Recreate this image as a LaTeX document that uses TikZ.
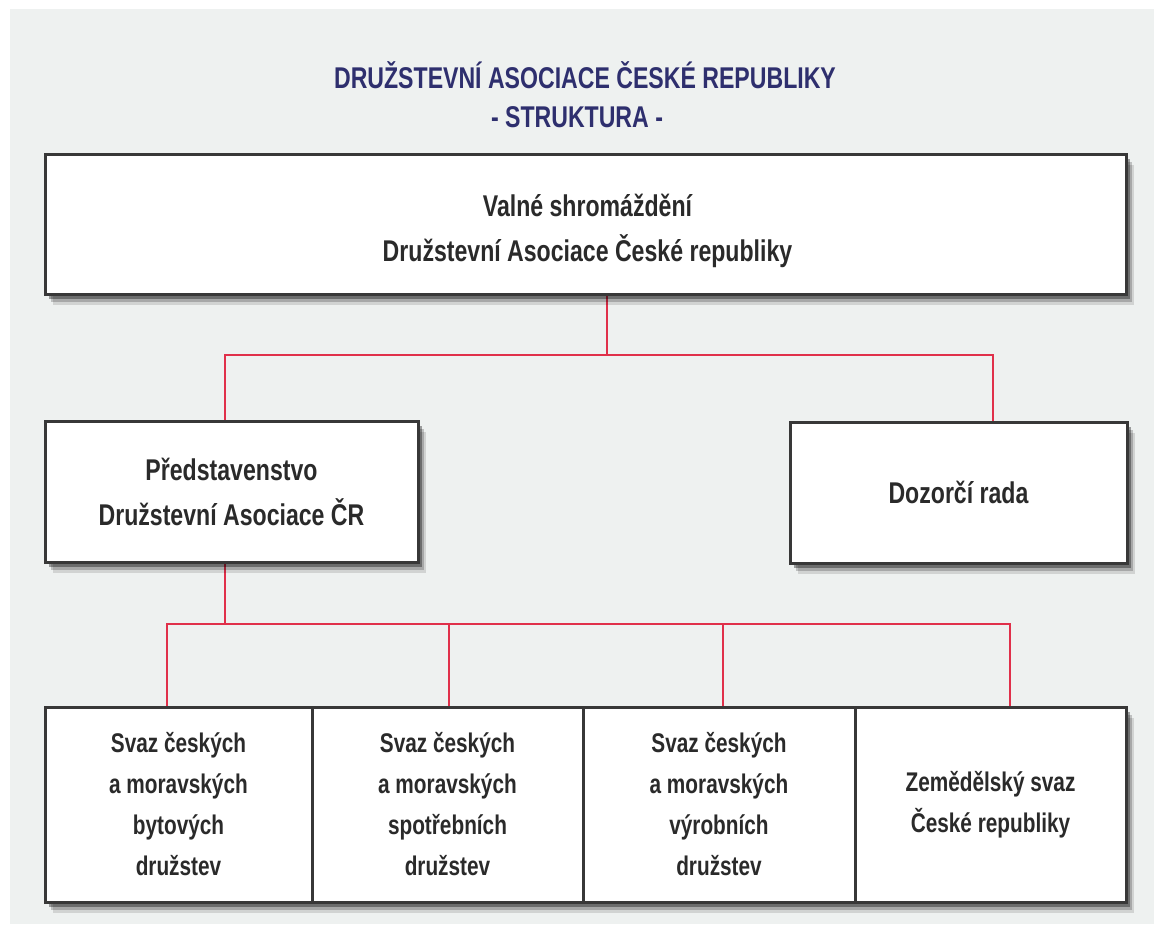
\documentclass[tikz,border=0pt]{standalone}
\usepackage{fontspec}
\usetikzlibrary{calc}
\newfontfamily\boxfont[FakeStretch=0.77]{Liberation Sans}
\definecolor{bgc}{HTML}{EEF1F0}
\definecolor{navy}{HTML}{2E2F6E}
\definecolor{boxline}{HTML}{383838}
\definecolor{textc}{HTML}{2A2A2A}
\definecolor{redline}{HTML}{E0304A}
\pgfdeclarelayer{bglayer}
\pgfdeclarelayer{connlayer}
\pgfsetlayers{bglayer,connlayer,main}
\tikzset{
  softshadow/.style={
    preaction={fill=black, fill opacity=0.12, draw=none, transform canvas={xshift=8pt, yshift=-11pt}},
    preaction={fill=black, fill opacity=0.20, draw=none, transform canvas={xshift=6pt, yshift=-8pt}},
    preaction={fill=black, fill opacity=0.35, draw=none, transform canvas={xshift=4pt, yshift=-5pt}}},
  box/.style={draw=boxline, line width=3pt, fill=white, text=textc,
    align=center, inner sep=0pt, outer sep=0pt, softshadow},
  bigtext/.style={font=\boxfont\bfseries\fontsize{30}{45}\selectfont},
  smalltext/.style={font=\boxfont\bfseries\fontsize{27}{41}\selectfont},
  conn/.style={draw=redline, line width=2.6pt},
  title/.style={text=navy, font=\boxfont\bfseries\fontsize{30}{42}\selectfont, align=center, inner sep=0pt}
}
\begin{document}
\begin{tikzpicture}[x=1pt,y=1pt]
\useasboundingbox (0,0) rectangle (1154,-924);
\begin{pgfonlayer}{bglayer}
\fill[bgc] (10,-9) rectangle (1154,-924);
\end{pgfonlayer}

\node[title] (t1) at (585,-75) {DRUŽSTEVNÍ ASOCIACE ČESKÉ REPUBLIKY};
\node[title] (t2) at (577,-117) {- STRUKTURA -};

\node[box, minimum width=1081pt, minimum height=140pt] (top) at (585.5,-224) {};
\node[bigtext, text=textc, align=center, inner sep=0pt] (toptext) at ($(top.center)+(2,-7)$)
  {Valné shromáždění\\Družstevní Asociace České republiky};
\node[box, bigtext, minimum width=373pt, minimum height=141pt] (pred) at (231.5,-491.5)
  {Představenstvo\\Družstevní Asociace ČR};
\node[box, bigtext, minimum width=337pt, minimum height=141pt] (dozor) at (958.5,-492.5)
  {Dozorčí rada};

\node[box, smalltext, minimum width=267pt, minimum height=195pt] (s1) at (178.5,-804.5)
  {Svaz českých\\a moravských\\bytových\\družstev};
\node[box, smalltext, minimum width=271pt, minimum height=195pt] (s2) at (447.5,-804.5)
  {Svaz českých\\a moravských\\spotřebních\\družstev};
\node[box, smalltext, minimum width=272pt, minimum height=195pt] (s3) at (719,-804.5)
  {Svaz českých\\a moravských\\výrobních\\družstev};
\node[box, smalltext, minimum width=271pt, minimum height=195pt] (s4) at (990.5,-804.5)
  {Zemědělský svaz\\České republiky};

\coordinate (j1) at (607,-355);
\coordinate (xa) at (225,-355);
\coordinate (xb) at (993,-355);
\coordinate (j2) at (225,-624);
\coordinate (b1) at (167,-624);
\coordinate (b2) at (449,-624);
\coordinate (b3) at (723,-624);
\coordinate (b4) at (1010,-624);

\begin{pgfonlayer}{connlayer}
\draw[conn] (top.south -| j1) -- (j1);
\draw[conn] (pred.north -| xa) -- (xa) -- (xb) -- (dozor.north -| xb);
\draw[conn] (pred.south -| j2) -- (j2);
\draw[conn] (s1.north -| b1) -- (b1) -- (b4) -- (s4.north -| b4);
\draw[conn] (b2) -- (s2.north -| b2);
\draw[conn] (b3) -- (s3.north -| b3);
\end{pgfonlayer}
\end{tikzpicture}
\end{document}
